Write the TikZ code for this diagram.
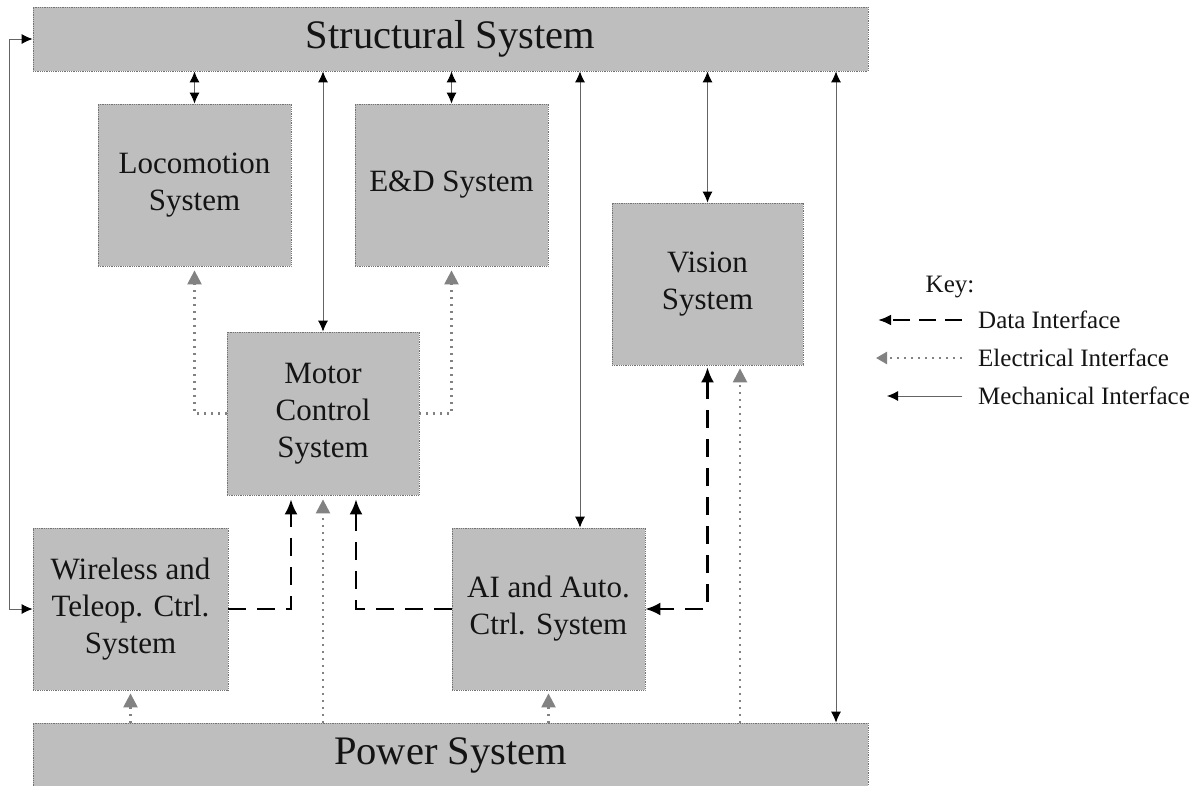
\documentclass[tikz,border=0pt]{standalone}
\usepackage{fontspec}
\setmainfont{Liberation Serif}
\usetikzlibrary{arrows.meta,calc}
\definecolor{boxgray}{RGB}{190,190,190}
\definecolor{boxline}{RGB}{115,115,115}
\definecolor{elecgray}{RGB}{130,130,130}
\definecolor{mechgray}{RGB}{100,100,100}
\definecolor{ink}{RGB}{20,20,20}
\begin{document}
\begin{tikzpicture}[x=1pt,y=-1pt,
  box/.style={draw=boxline, densely dotted, line width=0.8pt, fill=boxgray, inner sep=0pt,
    align=center, text=ink, font=\fontsize{31}{37}\selectfont},
  bigbox/.style={box, font=\fontsize{40.5}{46}\selectfont},
  mech/.style={draw=mechgray, line width=0.9pt, {Latex[length=11pt,width=10pt,fill=black,color=black]}-{Latex[length=11pt,width=10pt,fill=black,color=black]}},
  mechone/.style={draw=mechgray, line width=0.9pt, -{Latex[length=11pt,width=10pt,fill=black,color=black]}},
  data/.style={draw=black, line width=2.3pt, dash pattern=on 18pt off 11pt, -{Latex[length=15pt,width=13pt]}},
  datatwo/.style={data, {Latex[length=15pt,width=13pt]}-{Latex[length=15pt,width=13pt]}},
  elec/.style={draw=elecgray, line width=2.4pt, dash pattern=on 1.6pt off 5.4pt, -{Triangle[length=14pt,width=14pt]}},
  keytext/.style={anchor=west, inner sep=0pt, text=ink, font=\fontsize{25}{30}\selectfont}
]
\useasboundingbox (0,0) rectangle (1200,785);
\fill[white] (0,0) rectangle (1200,785);

% boxes
\node[bigbox, minimum width=835pt, minimum height=64pt] (struct) at (450.5,39) {Structural System};
\node[bigbox, minimum width=835pt, minimum height=64pt] (power) at (450.5,755) {Power System};
\node[box, minimum width=193pt, minimum height=162pt] (loco) at (194.5,185) {Locomotion\\System};
\node[box, minimum width=193pt, minimum height=162pt] (ed) at (451.5,185) {E\&D System};
\node[box, minimum width=191pt, minimum height=162pt] (vision) at (707.5,284) {Vision\\System};
\node[box, minimum width=192pt, minimum height=163pt] (motor) at (323,413.5) {Motor\\Control\\System};
\node[box, minimum width=195pt, minimum height=162pt] (wire) at (130.5,609) {Wireless and\\Teleop. Ctrl.\\System};
\node[box, minimum width=193pt, minimum height=162pt] (ai) at (548.5,609) {AI and Auto.\\Ctrl. System};

% mechanical interfaces
\draw[mech] (struct.south -| loco.north) -- (loco.north);
\draw[mech] (struct.south -| ed.north) -- (ed.north);
\draw[mech] (struct.south -| motor.north) -- (motor.north);
\draw[mech] ($(struct.south -| ai.north)+(31.5,0)$) -- ($(ai.north)+(31.5,0)$);
\draw[mech] (struct.south -| vision.north) -- (vision.north);
\draw[mech] ($(struct.south -| power.north)+(385.5,0)$) -- ($(power.north)+(385.5,0)$);
\draw[mech] (struct.west) -- ++(-23,0) |- (wire.west);

% electrical interfaces
\draw[elec, shorten >=4pt] (motor.west) -| (loco.south);
\draw[elec, shorten >=4pt] (motor.east) -| (ed.south);
\draw[elec, shorten >=4pt] (power.north -| motor.south) -- (motor.south);
\draw[elec, shorten >=3pt] (power.north -| wire.south) -- (wire.south);
\draw[elec, shorten >=3pt] (power.north -| ai.south) -- (ai.south);
\draw[elec, shorten >=3pt] ($(power.north -| vision.south)+(32.5,0)$) -- ($(vision.south)+(32.5,0)$);

% data interfaces
\draw[data, shorten >=4pt] (wire.east) -| ($(motor.south)+(-32,0)$);
\draw[data, shorten >=4pt] (ai.west) -| ($(motor.south)+(33,0)$);
\draw[datatwo, shorten <=2pt] (vision.south) |- (ai.east);

% key
\node[inner sep=0pt, text=ink, font=\fontsize{25}{30}\selectfont] (keyt) at (950,287) {Key:};
\node[keytext] (kdata) at (978,320) {Data Interface};
\node[keytext] (kelec) at (978,358) {Electrical Interface};
\node[keytext] (kmech) at (978,396) {Mechanical Interface};
\coordinate (kdA) at (878,320);
\coordinate (keA) at (876,358);
\coordinate (kmA) at (887,396);
\draw[data, dash pattern=on 17pt off 9pt, -{Latex[length=13pt,width=11pt]}] ($(kdata.west)+(-16,0)$) -- (kdA);
\draw[elec, -{Triangle[length=11pt,width=12pt]}] ($(kelec.west)+(-16,0)$) -- (keA);
\draw[mechone] ($(kmech.west)+(-16,0)$) -- (kmA);
\end{tikzpicture}
\end{document}
